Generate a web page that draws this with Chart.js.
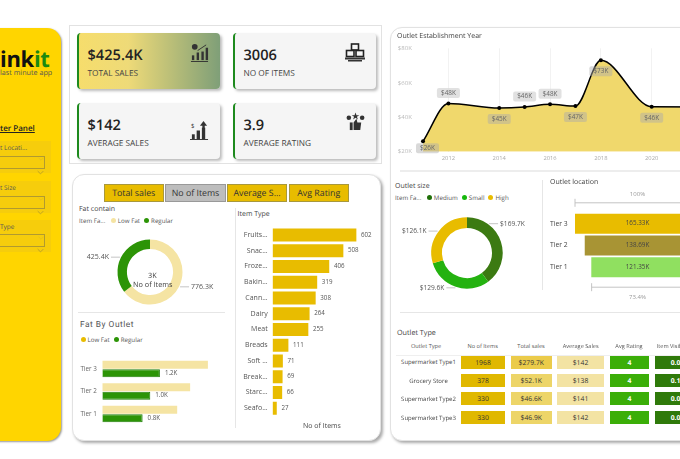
<!DOCTYPE html>
<html>
<head>
<meta charset="utf-8">
<title>Blinkit dashboard</title>
<script src="https://cdn.jsdelivr.net/npm/chart.js@4/dist/chart.umd.min.js"></script>
<style>
  html, body { margin: 0; padding: 0; width: 680px; height: 459px; overflow: hidden; background: #fff; }
  body { position: relative; font-family: "Open Sans", sans-serif; color: #444; text-rendering: geometricPrecision; filter: blur(0.3px); }
  canvas, .abs { position: absolute; }
  .txt { position: absolute; z-index: 2; white-space: nowrap; line-height: 1; transform: translateY(-50%); }
  .panel { position: absolute; background: #fff; border: 1px solid #e2e2e2; box-sizing: border-box; }
  .card { position: absolute; box-sizing: border-box; width: 143px; height: 56px; background: #f5f5f5;
          border-left: 2px solid #1e8a1e; border-radius: 4px; box-shadow: 2px 2px 3px #bbb; }
  .tab { position: absolute; top: 184px; height: 18px; box-sizing: border-box; background: #e8bc00; border: 1px solid #a8983c;
         font-size: 8.8px; line-height: 16px; text-align: center; color: #333; white-space: nowrap; overflow: hidden; }
  .cell { position: absolute; height: 13px; font-size: 6.8px; line-height: 13px; text-align: center; color: #333; }
  .dot { display: inline-block; width: 5px; height: 5px; border-radius: 50%; margin: 0 2px 0 4px; vertical-align: 0; }
  .sep { position: absolute; background: #e6e6e6; }
</style>
</head>
<body>
<script>
// KPI cards
const kpiValues = ['$425.4K', '3006', '$142', '3.9'];
const kpiLabels = ['TOTAL SALES', 'NO OF ITEMS', 'AVERAGE SALES', 'AVERAGE RATING'];

// Tabs
const tabLabels = ['Total sales', 'No of Items', 'Average S...', 'Avg Rating'];

// Fat contain
const fatNames = ['Low Fat', 'Regular'];
const fatValues = [776.3, 425.4];

// Fat by outlet
const tierNames = ['Tier 3', 'Tier 2', 'Tier 1'];
const tierLowFat = [2.2, 1.83, 1.56];
const tierRegular = [1.2, 1.0, 0.84];

// Item type
const itemNames = ['Fruits...', 'Snac...', 'Froze...', 'Bakin...', 'Cann...', 'Dairy', 'Meat', 'Breads', 'Soft ...', 'Break...', 'Starc...', 'Seafo...'];
const itemCounts = [602, 508, 406, 319, 308, 264, 255, 111, 71, 69, 66, 27];

// Outlet establishment year
const years = [2011, 2012, 2014, 2015, 2016, 2017, 2018, 2020, 2022];
const yearSales = [26, 48, 45.3, 45.9, 47.5, 46.5, 73, 46.1, 46];
const yearTicks = [2012, 2014, 2016, 2018, 2020, 2022];
const yearsLabelBelow = [2011, 2014, 2017, 2018, 2020];

// Outlet size
const sizeNames = ['Medium', 'Small', 'High'];
const sizeValues = [169.7, 129.6, 126.1];

// Outlet location funnel
const locationNames = ['Tier 3', 'Tier 2', 'Tier 1'];
const locationValues = [165.33, 138.69, 121.35];
const funnelTop = '100%';
const funnelBottom = '73.4%';

// Outlet type table
const tableHeaders = ['Outlet Type', 'No of Items', 'Total sales', 'Average Sales', 'Avg Rating', 'Item Visibility'];
const outletTypes = ['Supermarket Type1', 'Grocery Store', 'Supermarket Type2', 'Supermarket Type3'];
const outletItems = ['1968', '378', '330', '330'];
const outletSales = ['$279.7K', '$52.1K', '$46.6K', '$46.9K'];
const outletAvgSales = ['$142', '$138', '$141', '$142'];
const outletRating = ['4', '4', '4', '4'];
const outletVisibility = ['0.06', '0.11', '0.02', '0.06'];

const YELLOW = '#e8bc00', PALE = '#f5e4a3', GREEN = '#2c9406';

function text(str, x, y, size, extra) {
    const el = document.createElement('div');
    el.className = 'txt';
    el.textContent = str;
    el.style.cssText = `left:${x}px;top:${y}px;font-size:${size}px;` + (extra || '');
    document.body.appendChild(el);
    return el;
}

function box(cls, css) {
    const el = document.createElement('div');
    el.className = cls;
    el.style.cssText = css;
    document.body.appendChild(el);
    return el;
}

function legend(x, y, head, names, colors) {
    const el = text('', x, y, 6.2, 'color:#555;');
    el.innerHTML = (head ? head + ' ' : '') + names.map((n, i) =>
        `<span class="dot" style="background:${colors[i]}"></span>${n}`).join('');
}

function makeCanvas(left, top, width, height) {
    const c = document.createElement('canvas');
    c.width = width;
    c.height = height;
    c.style.left = left + 'px';
    c.style.top = top + 'px';
    document.body.appendChild(c);
    return c;
}

function svg(x, y, w, h, inner) {
    const el = box('abs', `left:${x}px;top:${y}px;`);
    el.innerHTML = `<svg width="${w}" height="${h}" viewBox="0 0 20 20" fill="#333" stroke="#333" stroke-width="0">${inner}</svg>`;
}

/* ---------- static frame ---------- */

box('abs', 'left:-20px;top:28px;width:81px;height:413px;background:#ffd500;border-radius:14px;box-shadow:1px 1px 2px #999;');
let logo = text('ink', 0, 59, 22, 'font-weight:700;color:#111;letter-spacing:-0.3px;');
logo.innerHTML = 'ink<span style="color:#1c8a10">it</span>';
text('last minute app', 0, 74, 7.2, 'color:#555;');
text('ter Panel', 0, 129, 8, 'font-weight:600;color:#222;text-decoration:underline;');
[['t Locati...', 141, 156, 147.5], ['t Size', 181, 196, 187.5], ['Type', 220, 234, 226.5]].forEach(s => {
    box('abs', `left:0;top:${s[1]}px;width:51px;height:32px;background:#f6cd0c;`);
    box('abs', `left:-2px;top:${s[2]}px;width:47px;height:13px;box-sizing:border-box;border:1px solid #b09a30;`);
    text(s[0], 0, s[3], 6.5, 'color:#555;');
    svg(37, s[2] + 3, 7, 7, '<path d="M2 6 L10 14 L18 6" fill="none" stroke="#a8942c" stroke-width="2"/>');
    svg(38, s[3] - 3, 6, 6, '<path d="M2 6 L10 14 L18 6" fill="none" stroke="#dcbc20" stroke-width="2"/>');
});

box('panel', 'left:69px;top:25px;width:313px;height:139px;');
const cardPos = [[76.5, 33], [232.5, 33], [76.5, 103], [232.5, 103]];
kpiValues.forEach((v, i) => {
    const [x, y] = cardPos[i];
    box('card', `left:${x}px;top:${y}px;` + (i === 0 ? 'background:linear-gradient(90deg,#f6dd6c,#eeda78 35%,#7f9f78);' : ''));
    text(v, x + 11, y + 21.5, 14.6, 'font-weight:600;color:#222;');
    text(kpiLabels[i], x + 11, y + 41, 8.3, 'color:#444;');
});
svg(190, 42, 19, 21, '<rect x="2" y="13" width="2.5" height="5"/><rect x="7" y="10" width="2.5" height="8"/><rect x="12" y="9" width="2.5" height="9"/><rect x="16.5" y="5" width="2.5" height="13"/><rect x="1" y="19" width="18" height="1"/><circle cx="5" cy="4" r="3"/><path d="M8 8 L17 2" stroke="#333" stroke-width="1"/>');
svg(345, 43, 20, 20, '<rect x="6.5" y="1" width="7" height="6" fill="none" stroke="#222" stroke-width="1.6"/><rect x="1.5" y="7.5" width="7.5" height="6" fill="none" stroke="#222" stroke-width="1.6"/><rect x="11" y="7.5" width="7.5" height="6" fill="none" stroke="#222" stroke-width="1.6"/><rect x="0" y="14.5" width="20" height="2"/><rect x="3" y="17" width="14" height="1.5"/>');
svg(190, 121, 19, 19, '<rect x="2" y="14" width="3" height="5"/><rect x="7" y="10" width="3.5" height="9"/><rect x="12.5" y="7" width="3.5" height="12"/><path d="M10.5 5 L14.2 0 L18 5 Z"/><rect x="13" y="4" width="2.5" height="4"/><rect x="0" y="19" width="19" height="1"/>');
text('$', 191, 126, 6, 'color:#333;');
svg(346, 112, 19, 19, '<path d="M9 3.5 L10 0.5 L11 3.5 L14 3.5 L11.5 5 L12.5 8 L10 6 L7.5 8 L8.5 5 L6 3.5 Z"/><circle cx="3" cy="6" r="2.4"/><circle cx="17" cy="6" r="2.4"/><rect x="4" y="11" width="3" height="8"/><path d="M8 11 L11 7 L12 11 L16 11 L15 19 L8 19 Z"/>');

box('panel', 'left:71.5px;top:174px;width:309px;height:267px;border-radius:12px;box-shadow:2px 2px 3px #aaa;');
const tabPos = [[103.5, 60.5], [165, 61], [227, 60], [288.5, 60.5]];
tabLabels.forEach((t, i) => {
    const el = box('tab', `left:${tabPos[i][0]}px;width:${tabPos[i][1]}px;` + (i === 1 ? 'background:#bdbdbd;border-color:#999;' : ''));
    el.textContent = t;
});
text('Fat contain', 79, 208.5, 7);
legend(79, 221, 'Item Fa...', fatNames, [PALE, GREEN]);
box('sep', 'left:78px;top:312px;width:147px;height:1px;');
text('Fat By Outlet', 80, 325, 8.4, 'font-family:Roboto;letter-spacing:0.5px;color:#555;');
legend(76.5, 340, '', fatNames, [YELLOW, GREEN]);
box('sep', 'left:234.5px;top:208px;width:1px;height:220px;');
text('Item Type', 237.5, 213.5, 7);
text('No of Items', 303, 425.5, 7);
text('3K', 148, 277, 7.3);
text('No of Items', 133, 286, 7.3);

box('panel', 'left:390px;top:27px;width:320px;height:414px;border-radius:12px;box-shadow:2px 2px 3px #aaa;');
text('Outlet Establishment Year', 397, 36, 7);
box('sep', 'left:400px;top:170px;width:290px;height:2px;background:#ededed;');
text('Outlet size', 395, 185.5, 7);
legend(395, 198, 'Item Fa...', sizeNames, ['#1f6f08', '#16b80c', YELLOW]);
box('sep', 'left:542px;top:180px;width:1px;height:110px;');
text('Outlet location', 550, 181.5, 7);
box('sep', 'left:400px;top:312px;width:290px;height:1px;');
text('Outlet Type', 397, 333.5, 7.2);

/* ---------- table ---------- */

const colLeft = [461, 511, 557, 610, 654.5];
const colWidth = [44, 40.5, 47, 39, 46];
const colBg = ['#e0b800', '#edd568', '#f3e3a3', '#3bae08', '#2f7a0a'];
const rowTop = [355.7, 374, 392.3, 411];
const tableCols = [outletItems, outletSales, outletAvgSales, outletRating, outletVisibility];

const headCenter = [426, 482.7, 531, 580.7, 629, 674];
tableHeaders.forEach((h, i) => {
    const el = text(h, headCenter[i], 346.7, 5.6, 'color:#555;');
    el.style.transform = 'translate(-50%,-50%)';
});
box('sep', 'left:396px;top:355px;width:290px;height:1px;background:#efefef;');
svg(463.5, 349, 4, 4, '<path d="M2 4 L18 4 L10 18 Z"/>');
outletTypes.forEach((t, r) => {
    const el = text(t, 428.5, rowTop[r] + 6.5, 6, 'color:#444;');
    el.style.transform = 'translate(-50%,-50%)';
    tableCols.forEach((col, c) => {
        const light = c >= 3;
        const cell = box('cell', `left:${colLeft[c]}px;top:${rowTop[r]}px;width:${colWidth[c]}px;background:${c === 1 && r === 0 ? '#ebcb4a' : colBg[c]};` +
            (light ? 'color:#fff;font-weight:700;' : ''));
        cell.textContent = col[r];
    });
});

/* ---------- charts ---------- */

Chart.defaults.font.family = '"Open Sans", sans-serif';
Chart.defaults.animation = false;
Chart.defaults.responsive = false;
Chart.defaults.maintainAspectRatio = false;
Chart.defaults.plugins.legend.display = false;
Chart.defaults.plugins.tooltip.enabled = false;

// Fixed width for a vertical axis, without the extra room Chart.js reserves for half a label
const fixedY = width => s => {
    s.width = width;
    s.paddingTop = 0;
    s.paddingBottom = 0;
};

// Leader line and text for doughnut slices. anchors overrides the slice midpoint (degrees from top).
function sliceLabels(texts, size, anchors) {
    return {
        id: 'sliceLabels',
        afterDatasetsDraw(chart) {
            const ctx = chart.ctx;
            chart.getDatasetMeta(0).data.forEach((arc, i) => {
                const p = arc.getProps(['x', 'y', 'startAngle', 'endAngle', 'outerRadius'], true);
                let mid = (p.startAngle + p.endAngle) / 2;
                if (anchors && anchors[i] != null) mid = anchors[i] * Math.PI / 180 - Math.PI / 2;
                const side = Math.cos(mid) >= 0 ? 1 : -1;
                const px = p.x + Math.cos(mid) * (p.outerRadius + 1);
                const py = p.y + Math.sin(mid) * (p.outerRadius + 1);
                ctx.save();
                ctx.strokeStyle = '#c4c4c4';
                ctx.lineWidth = 1;
                ctx.beginPath();
                ctx.moveTo(px, py);
                ctx.lineTo(px + side * 9, py);
                ctx.stroke();
                ctx.fillStyle = '#555';
                ctx.font = size + 'px "Open Sans"';
                ctx.textBaseline = 'middle';
                ctx.textAlign = side > 0 ? 'left' : 'right';
                ctx.fillText(texts[i], px + side * 11, py);
                ctx.restore();
            });
        },
    };
}

// Value text at the end of each bar of one dataset
function barEndLabels(datasetIndex, texts, size) {
    return {
        id: 'barEndLabels',
        afterDatasetsDraw(chart) {
            const ctx = chart.ctx;
            chart.getDatasetMeta(datasetIndex).data.forEach((bar, i) => {
                ctx.save();
                ctx.fillStyle = '#555';
                ctx.font = size + 'px "Open Sans"';
                ctx.textBaseline = 'middle';
                ctx.fillText(texts[i], bar.x + 5, bar.y);
                ctx.restore();
            });
        },
    };
}

new Chart(makeCanvas(78, 232, 144, 80), {
    type: 'doughnut',
    data: { labels: fatNames, datasets: [{ data: fatValues, backgroundColor: [PALE, GREEN], borderWidth: 0 }] },
    options: { cutout: '71%', layout: { padding: 7.5 } },
    plugins: [sliceLabels(fatValues.map(v => v + 'K'), 7)],
});

new Chart(makeCanvas(72, 352, 155, 80), {
    type: 'bar',
    data: {
        labels: tierNames,
        datasets: [
            { data: tierLowFat, backgroundColor: PALE, categoryPercentage: 0.75, barPercentage: 0.94 },
            { data: tierRegular, backgroundColor: GREEN, borderColor: '#1f7f08', borderWidth: 1, categoryPercentage: 0.75, barPercentage: 0.94 },
        ],
    },
    options: {
        indexAxis: 'y',
        layout: { padding: { top: 5.75, bottom: 6.75, right: 4.7 } },
        scales: {
            x: { display: false, min: 0, max: 2.5 },
            y: {
                afterFit: fixedY(30.3),
                grid: { display: false, drawTicks: false },
                border: { display: false },
                ticks: { padding: 5.5, color: '#666', font: { size: 6.3 } },
            },
        },
    },
    plugins: [barEndLabels(1, tierRegular.map(v => v.toFixed(1) + 'K'), 6.2)],
});

new Chart(makeCanvas(232, 222, 145, 200), {
    type: 'bar',
    data: { labels: itemNames, datasets: [{ data: itemCounts, backgroundColor: YELLOW, barThickness: 12.2 }] },
    options: {
        indexAxis: 'y',
        layout: { padding: { top: 5.1, bottom: 5.9, right: 7.4 } },
        scales: {
            x: { display: false, min: 0, max: 700 },
            y: {
                afterFit: fixedY(40.7),
                grid: { display: false, drawTicks: false },
                border: { display: false },
                ticks: { padding: 5, autoSkip: false, color: '#555', font: { size: 7 } },
            },
        },
    },
    plugins: [barEndLabels(0, itemCounts.map(String), 6.2)],
});

// Rounded value boxes above or below the line points
const yearBoxes = {
    id: 'yearBoxes',
    afterDatasetsDraw(chart) {
        const ctx = chart.ctx, area = chart.chartArea;
        chart.getDatasetMeta(0).data.forEach((pt, i) => {
            const below = yearsLabelBelow.includes(years[i]);
            const cx = Math.max(pt.x, area.left + 4.5);
            const cy = Math.min(pt.y + (below ? 11 : -10.5), area.bottom - 3.5);
            ctx.save();
            ctx.fillStyle = below ? 'rgba(170,170,170,0.45)' : 'rgba(215,215,215,0.75)';
            ctx.beginPath();
            ctx.roundRect(cx - 11.5, cy - 5, 23, 10, 2);
            ctx.fill();
            ctx.fillStyle = '#666';
            ctx.font = '6.4px "Open Sans"';
            ctx.textAlign = 'center';
            ctx.textBaseline = 'middle';
            ctx.fillText('$' + Math.round(yearSales[i]) + 'K', cx, cy);
            ctx.restore();
        });
    },
};

new Chart(makeCanvas(390, 40, 320, 126), {
    type: 'line',
    data: {
        datasets: [{
            data: years.map((y, i) => ({ x: y, y: yearSales[i] })),
            borderColor: '#000',
            borderWidth: 1.5,
            backgroundColor: '#f0d86c',
            fill: 'start',
            cubicInterpolationMode: 'monotone',
            pointBackgroundColor: '#000',
            pointBorderWidth: 0,
            pointRadius: 2,
            clip: 4,
        }],
    },
    options: {
        layout: { padding: { top: 8.3, right: 7.5 } },
        scales: {
            x: {
                type: 'linear',
                min: 2011,
                max: 2022,
                afterBuildTicks: s => { s.ticks = yearTicks.map(v => ({ value: v })); },
                afterFit: s => {
                    s.height = 14.3;
                    s.paddingLeft = 0;
                    s.paddingRight = 0;
                },
                grid: { color: '#f2f2f2', drawTicks: false },
                border: { display: false },
                ticks: { padding: 3, color: '#aaa', font: { size: 5.8 }, callback: v => String(v), maxRotation: 0 },
            },
            y: {
                min: 20,
                max: 80,
                afterFit: fixedY(33),
                grid: { display: false, drawTicks: false },
                border: { display: false },
                ticks: { stepSize: 20, padding: 11, color: '#bbb', font: { size: 6.1 }, callback: v => '$' + v + 'K' },
            },
        },
    },
    plugins: [yearBoxes],
});

new Chart(makeCanvas(396, 205, 142, 96), {
    type: 'doughnut',
    data: { labels: sizeNames, datasets: [{ data: sizeValues, backgroundColor: ['#3c7a12', '#24b210', YELLOW], borderWidth: 0 }] },
    options: { cutout: '70%', layout: { padding: 12.3 } },
    plugins: [sliceLabels(sizeValues.map(v => '$' + v + 'K'), 6.6, [37])],
});

// Funnel brackets with the percentage captions
const funnelBrackets = {
    id: 'funnelBrackets',
    afterDatasetsDraw(chart) {
        const ctx = chart.ctx, area = chart.chartArea, x = chart.scales.x;
        const lines = [
            { from: x.getPixelForValue(funnelStart(locationValues[0])), y: area.top - 10, textY: area.top - 19, label: funnelTop },
            { from: x.getPixelForValue(funnelStart(locationValues[2])), y: area.bottom + 9, textY: area.bottom + 19, label: funnelBottom },
        ];
        const centre = x.getPixelForValue(locationValues[0] / 2);
        ctx.save();
        ctx.strokeStyle = '#c4c4c4';
        ctx.fillStyle = '#999';
        ctx.font = '6px "Open Sans"';
        ctx.textAlign = 'center';
        ctx.textBaseline = 'middle';
        lines.forEach(l => {
            ctx.beginPath();
            ctx.moveTo(l.from, l.y - 4);
            ctx.lineTo(l.from, l.y + 4);
            ctx.moveTo(l.from, l.y);
            ctx.lineTo(area.right, l.y);
            ctx.stroke();
            ctx.fillText(l.label, centre, l.textY);
        });
        ctx.restore();
    },
};

function funnelStart(v) {
    return (locationValues[0] - v) / 2;
}

new Chart(makeCanvas(543, 185, 170, 120), {
    type: 'bar',
    data: {
        labels: locationNames,
        datasets: [{
            data: locationValues.map(v => [funnelStart(v), funnelStart(v) + v]),
            backgroundColor: [YELLOW, '#a89434', '#90e060'],
            barThickness: 19.3,
        }],
    },
    options: {
        indexAxis: 'y',
        layout: { padding: { top: 27.8, bottom: 26.8, left: 7, right: 13 } },
        scales: {
            x: { display: false, min: 0, max: 165.33 },
            y: {
                afterFit: fixedY(25),
                grid: { display: false, drawTicks: false },
                border: { display: false },
                ticks: { padding: 0, crossAlign: 'far', color: '#444', font: { size: 6.8 } },
            },
        },
    },
    plugins: [funnelBrackets, {
        id: 'funnelValues',
        afterDatasetsDraw(chart) {
            const ctx = chart.ctx, x = chart.scales.x;
            chart.getDatasetMeta(0).data.forEach((bar, i) => {
                ctx.save();
                ctx.fillStyle = '#444';
                ctx.font = '6.3px "Open Sans"';
                ctx.textAlign = 'center';
                ctx.textBaseline = 'middle';
                ctx.fillText(locationValues[i].toFixed(2) + 'K', x.getPixelForValue(locationValues[0] / 2), bar.y);
                ctx.restore();
            });
        },
    }],
});
</script>
</body>
</html>
